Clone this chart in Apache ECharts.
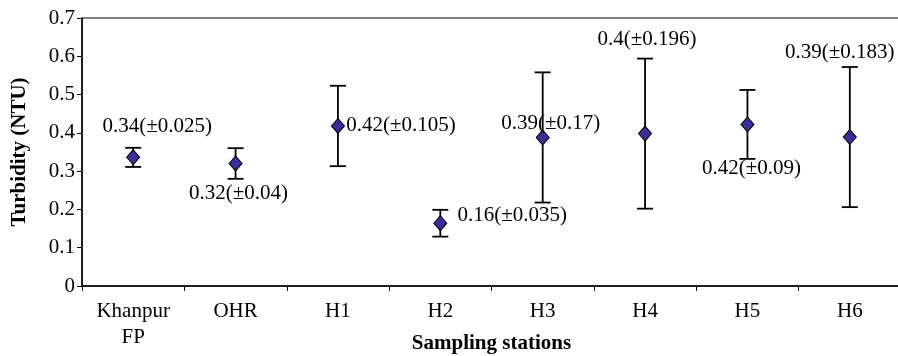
<!DOCTYPE html>
<html>
<head>
<meta charset="utf-8">
<script src="https://cdn.jsdelivr.net/npm/echarts@6/dist/echarts.min.js"></script>
<style>
  html, body { margin: 0; padding: 0; background: #fff; overflow: hidden; }
  #main { width: 898px; height: 356px; }
</style>
</head>
<body>
<div id="main"></div>
<script>
// sampling stations
const stations = ['Khanpur\nFP', 'OHR', 'H1', 'H2', 'H3', 'H4', 'H5', 'H6'];
// mean turbidity (NTU), as plotted
const means = [0.336, 0.32, 0.418, 0.164, 0.388, 0.398, 0.422, 0.389];
// standard deviation (±)
const errors = [0.025, 0.04, 0.105, 0.035, 0.17, 0.196, 0.09, 0.183];
// y axis ticks
const yTicks = [0, 0.1, 0.2, 0.3, 0.4, 0.5, 0.6, 0.7];

// where each value label sits relative to its marker [dx, dy]
const labelOffsets = [[24, -31], [3, 30], [63, 0], [72, -8], [8, -14], [2, -94], [4, 44], [-10, -85]];

const font = 'Liberation Serif';

const chart = echarts.init(document.getElementById('main'));

const errData = stations.map((s, i) => [i, means[i] - errors[i], means[i] + errors[i]]);

const pointData = stations.map((s, i) => ({
  value: [i, means[i]],
  label: { offset: labelOffsets[i] }
}));

const option = {
  animation: false,
  grid: {
    left: 82, top: 18, width: 819, height: 268,
    outerBoundsMode: 'none',
    containLabel: false,
    show: true, borderColor: '#000', borderWidth: 1
  },
  xAxis: {
    type: 'category',
    data: stations,
    boundaryGap: true,
    name: 'Sampling stations',
    nameLocation: 'middle',
    nameGap: 47,
    nameMoveOverlap: false,
    nameTextStyle: { fontFamily: font, fontSize: 21, fontWeight: 'bold', color: '#000' },
    axisLine: { lineStyle: { color: '#000', width: 1.5 } },
    axisTick: { show: true, length: 5, lineStyle: { color: '#000' } },
    axisLabel: { fontFamily: font, fontSize: 21, color: '#000', margin: 12, lineHeight: 26, interval: 0 },
    splitLine: { show: false }
  },
  yAxis: {
    type: 'value',
    min: yTicks[0],
    max: yTicks[yTicks.length - 1],
    interval: 0.1,
    name: 'Turbidity (NTU)',
    nameLocation: 'middle',
    nameGap: 52,
    nameMoveOverlap: false,
    nameTextStyle: { fontFamily: font, fontSize: 21, fontWeight: 'bold', color: '#000' },
    axisLine: { show: true, lineStyle: { color: '#000', width: 1.5 } },
    axisTick: { show: true, length: 5, lineStyle: { color: '#000' } },
    axisLabel: { fontFamily: font, fontSize: 21, color: '#000', margin: 7, formatter: v => String(+v.toFixed(1)) },
    splitLine: { show: false }
  },
  series: [
    {
      type: 'custom',
      data: errData,
      z: 2,
      renderItem: function (params, api) {
        const x = api.value(0);
        const lo = api.coord([x, api.value(1)]);
        const hi = api.coord([x, api.value(2)]);
        const hw = 8;
        const style = { stroke: '#000', lineWidth: 1.8 };
        return {
          type: 'group',
          children: [
            { type: 'line', shape: { x1: hi[0], y1: hi[1], x2: lo[0], y2: lo[1] }, style },
            { type: 'line', shape: { x1: hi[0] - hw, y1: hi[1], x2: hi[0] + hw, y2: hi[1] }, style },
            { type: 'line', shape: { x1: lo[0] - hw, y1: lo[1], x2: lo[0] + hw, y2: lo[1] }, style }
          ]
        };
      }
    },
    {
      type: 'scatter',
      data: pointData,
      z: 3,
      symbol: 'diamond',
      symbolSize: [13, 15],
      itemStyle: { color: '#3a2f9a', borderColor: '#000', borderWidth: 1, opacity: 1 },
      emphasis: { disabled: true },
      label: {
        show: true,
        position: 'inside',
        align: 'center',
        verticalAlign: 'middle',
        fontFamily: font,
        fontSize: 21,
        color: '#000',
        formatter: p => +means[p.dataIndex].toFixed(2) + '(±' + errors[p.dataIndex] + ')'
      }
    }
  ]
};

chart.setOption(option);
</script>
</body>
</html>
